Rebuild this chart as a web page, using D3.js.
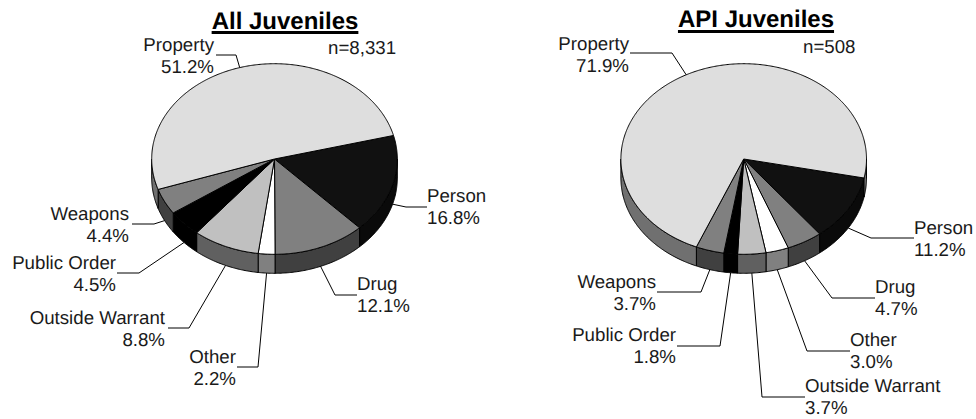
<!DOCTYPE html>
<html><head><meta charset="utf-8">
<script src="https://cdn.jsdelivr.net/npm/d3@7"></script>
<style>
html,body{margin:0;padding:0;background:#fff}
svg{display:block}
text{font-family:"Liberation Sans",Arial,sans-serif;fill:#1a1a1a;text-rendering:geometricPrecision}
</style></head><body><svg id="c" width="976" height="419"></svg>
<script>
const categories=["Person","Drug","Other","Outside Warrant","Public Order","Weapons","Property"];
const allValues=[16.8,12.1,2.2,8.8,4.5,4.4,51.2];
const apiValues=[11.2,4.7,3.0,3.7,1.8,3.7,71.9];
const topColors=["#111111","#808080","#ffffff","#c0c0c0","#000000","#808080","#dedede"];
const sideColors=["#0a0a0a","#404040","#808080","#606060","#000000","#404040","#707070"];

// layout: [elbow x, elbow y, end x, text x, first baseline, anchor]
const allLayout={title:"All Juveniles",titleX:285,titleY:29,ulY:32.5,n:"n=8,331",nX:328,nY:54,
 cx:274.5,cy:159,start:75.7,
 labels:[[406,207,427,427,202,"start"],[335,295,357,357,290,"start"],[258,367,237,236,363,"end"],
 [189,328,168,165,324,"end"],[139,273,117,116,269,"end"],[154,224,132,129,220,"end"],[236,55,216,214,51,"end"]]};
const apiLayout={title:"API Juveniles",titleX:756,titleY:27,ulY:31.5,n:"n=508",nX:803,nY:53,
 cx:743.7,cy:159,start:101.5,
 labels:[[871,238,914,914,234,"start"],[832,298,875,875,293,"start"],[807,351,850,850,346,"start"],
 [762,397,805,805,392,"start"],[720,346,677,676,341,"end"],[701,292,657,656,288,"end"],[672,53,630,629,50,"end"]]};
const rx=122.8, ry=95.3, depth=19, fontSize=18.7, lineGap=22;

const svg=d3.select("#c");
const line=d3.line();
function drawPie(values,L){
  const g=svg.append("g");
  const {cx,cy}=L;
  const px=a=>cx+rx*Math.sin(a), py=a=>cy-ry*Math.cos(a);
  const s0=L.start*Math.PI/180;
  const arcs=d3.pie().sort(null).startAngle(s0).endAngle(s0+2*Math.PI)(values);
  const samples=(a,b)=>{const n=Math.max(2,Math.ceil((b-a)/0.01));return d3.range(n+1).map(i=>a+(b-a)*i/n);};
  const sideSegs=[];
  arcs.forEach((d,i)=>{
    [0,2*Math.PI].forEach(k=>{
      const a=Math.max(d.startAngle-k,Math.PI/2),b=Math.min(d.endAngle-k,1.5*Math.PI);
      if(b>a) sideSegs.push({a,b,i});
    });
  });
  sideSegs.forEach(s=>{
    const top=samples(s.a,s.b).map(t=>[px(t),py(t)]);
    const bot=top.slice().reverse().map(p=>[p[0],p[1]+depth]);
    g.append("path").attr("d",line(top.concat(bot))+"Z").attr("fill",sideColors[s.i])
      .attr("stroke","#000").attr("stroke-width",1).attr("stroke-linejoin","round");
  });
  arcs.forEach((d,i)=>{
    const pts=[[cx,cy]].concat(samples(d.startAngle,d.endAngle).map(t=>[px(t),py(t)]));
    g.append("path").attr("d",line(pts)+"Z").attr("fill",topColors[i])
      .attr("stroke","#000").attr("stroke-width",1).attr("stroke-linejoin","round");
  });
  arcs.forEach((d,i)=>{
    const m=(d.startAngle+d.endAngle)/2, cm=Math.cos(m);
    const sy=py(m)+(cm<0?depth:0);
    const lay=L.labels[i];
    g.append("path").attr("d",line([[px(m),sy],[lay[0],lay[1]],[lay[2],lay[1]]]))
      .attr("fill","none").attr("stroke","#000").attr("stroke-width",1);
    g.append("text").attr("x",lay[3]).attr("y",lay[4]).attr("text-anchor",lay[5])
      .attr("font-size",fontSize).text(categories[i]);
    g.append("text").attr("x",lay[3]).attr("y",lay[4]+lineGap).attr("text-anchor",lay[5])
      .attr("font-size",fontSize).text(values[i].toFixed(1)+"%");
  });
  const t=g.append("text").attr("x",L.titleX).attr("y",L.titleY).attr("text-anchor","middle")
    .attr("font-size",24).attr("font-weight","bold").style("fill","#000").text(L.title);
  const w=t.node().getComputedTextLength();
  g.append("rect").attr("x",L.titleX-w/2).attr("y",L.ulY-1.5).attr("width",w).attr("height",3).attr("fill","#000");
  g.append("text").attr("x",L.nX).attr("y",L.nY).attr("font-size",fontSize).text(L.n);
}
drawPie(allValues,allLayout);
drawPie(apiValues,apiLayout);
</script></body></html>
